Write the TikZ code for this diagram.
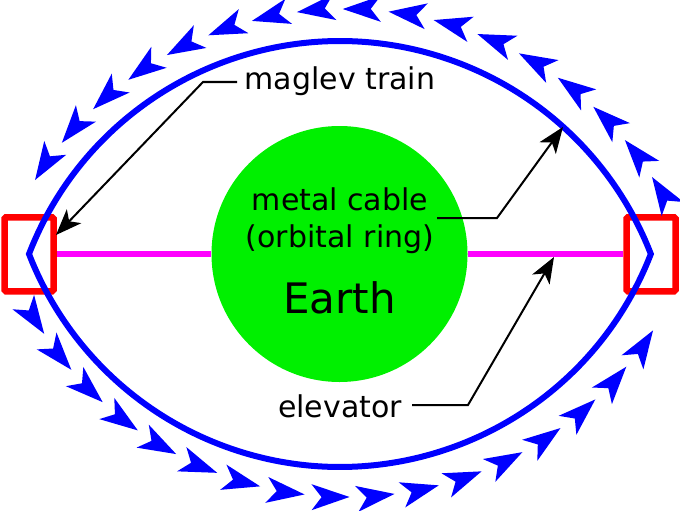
\documentclass[tikz,border=0pt]{standalone}
\usepackage{fontspec}
\setmainfont{DejaVu Sans}
\usetikzlibrary{arrows.meta,calc}
\definecolor{earthgreen}{RGB}{0,240,0}
\definecolor{cablemag}{RGB}{255,0,255}
\definecolor{ringblue}{RGB}{0,0,255}
\definecolor{trainred}{RGB}{255,0,0}
\begin{document}
\begin{tikzpicture}[x=1pt,y=-1pt,
  lbl/.style={font=\fontsize{30}{36}\selectfont, inner sep=0pt, anchor=base},
  bigl/.style={font=\fontsize{42}{50}\selectfont, inner sep=0pt, anchor=base},
  leader/.style={line width=2pt, line join=miter, -{Stealth[length=26pt,width=20pt,inset=7pt]}},
  train/.style={draw=trainred, line width=6.5pt, minimum width=49pt, minimum height=74pt, inner sep=0pt, rounded corners=1.5pt},
  cable/.style={draw=cablemag, line width=6pt},
  ring/.style={draw=ringblue, line width=6pt, line join=miter},
  chev/.style={fill=ringblue}]
\useasboundingbox (0,0) rectangle (680,511);
% Earth
\node[circle, fill=earthgreen, minimum size=256pt, inner sep=0pt] (earth) at (339.5,254) {};
% trains
\node[train] (lrect) at (29,254.3) {};
\node[train] (rrect) at (651,254.3) {};
% elevator cable
\draw[cable] (lrect.east |- 0,254) -- (earth.west);
\draw[cable] (earth.east) -- (rrect.west |- 0,254);
% orbital ring (lens)
\draw[ring] (29,254) arc[start angle=201.2, end angle=338.8, radius=333.5]
  arc[start angle=21.2, end angle=158.8, radius=333.5] -- cycle;
% direction chevrons, top
\foreach \i in {0,...,16} {
  \pgfmathsetmacro\a{212.15+7.197*\i}
  \path (344.5,374.5) ++(\a:365.5) coordinate (t);
  \fill[chev] (t) -- ($(t)+(\a+90:38)+(\a:13)$) -- ($(t)+(\a+90:28)$) -- ($(t)+(\a+90:38)+(\a+180:13)$) -- cycle;
}
% direction chevrons, bottom
\foreach \i in {0,...,16} {
  \pgfmathsetmacro\a{32.8+7.11*\i}
  \path (347.5,133.5) ++(\a:363.5) coordinate (t);
  \fill[chev] (t) -- ($(t)+(\a+90:38)+(\a:13)$) -- ($(t)+(\a+90:28)$) -- ($(t)+(\a+90:38)+(\a+180:13)$) -- cycle;
}
% labels
\node[lbl] (mag) at (340,89.5) {maglev train};
\node[lbl] (metal) at (340,210) {metal cable};
\node[lbl] (orb) at (340,247.5) {(orbital ring)};
\node[bigl] (earthlbl) at (339.5,313) {Earth};
\node[lbl] (elev) at (340,417) {elevator};
% leader lines
\coordinate (magA) at (237,82);
\coordinate (magB) at (203,82);
\coordinate (magT) at (56,235);
\draw[leader] (magA) -- (magB) -- (magT);
\coordinate (metA) at (437,218);
\coordinate (metB) at (497,218);
\coordinate (metT) at (563,127);
\draw[leader] (metA) -- (metB) -- (metT);
\coordinate (elA) at (412,405);
\coordinate (elB) at (468,405);
\coordinate (elT) at (554,257);
\draw[leader] (elA) -- (elB) -- (elT);
\end{tikzpicture}
\end{document}
